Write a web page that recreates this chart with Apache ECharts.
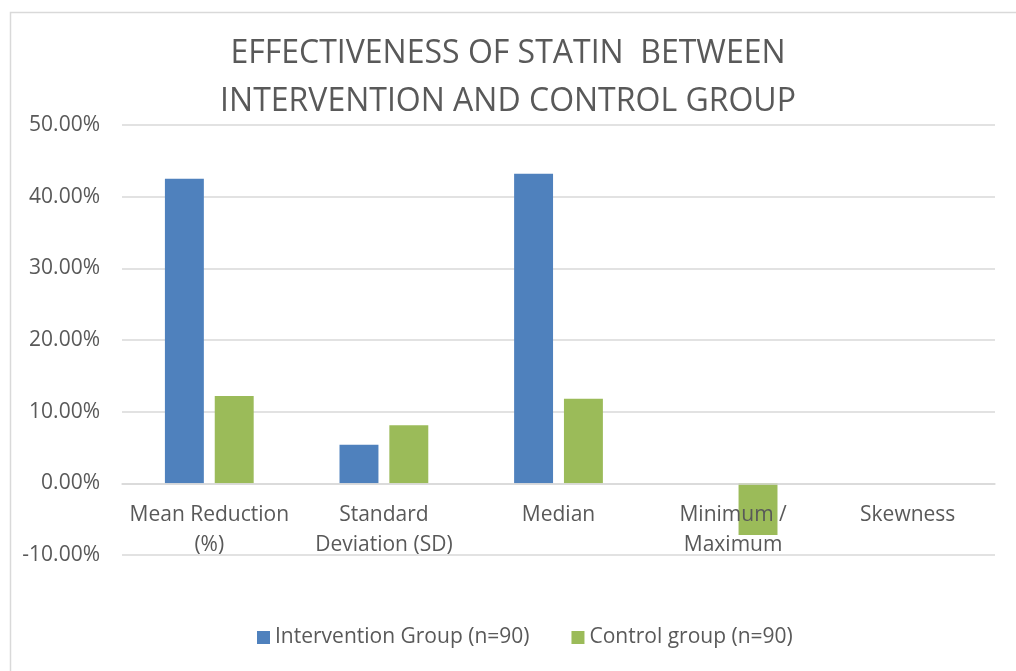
<!DOCTYPE html>
<html>
<head>
<meta charset="utf-8">
<script src="https://cdn.jsdelivr.net/npm/echarts@6/dist/echarts.min.js"></script>
<style>html,body{margin:0;padding:0;background:#fff}#c{width:1016px;height:671px}</style>
</head>
<body>
<div id="c"></div>
<script>
const titleText = 'EFFECTIVENESS OF STATIN  BETWEEN\nINTERVENTION AND CONTROL GROUP';
const categories = ['Mean Reduction\n(%)', 'Standard\nDeviation (SD)', 'Median', 'Minimum /\nMaximum', 'Skewness'];
const seriesNames = ['Intervention Group (n=90)', 'Control group (n=90)'];
const intervention = [42.5, 5.4, 43.2, null, null];
const control = [12.2, 8.1, 11.8, -7.2, null];
const yMin = -10, yMax = 50, yStep = 10;

const FONT = '"Open Sans", sans-serif';
const W = 1016, H = 671;
const gridTop = 125, gridBottom = 116;
const gridH = H - gridTop - gridBottom;
const zeroOffset = -((0 - yMin) / (yMax - yMin)) * gridH;

const chart = echarts.init(document.getElementById('c'), null, {renderer: 'canvas'});
chart.setOption({
  backgroundColor: '#fff',
  animation: false,
  graphic: [{
    type: 'rect', left: 8, top: 10, z: -1,
    shape: {width: 1100, height: 800},
    style: {fill: 'none', stroke: '#d9d9d9', lineWidth: 1.5}
  }],
  title: {
    text: titleText, left: 'center', top: 25,
    textStyle: {fontFamily: FONT, fontSize: 32, fontWeight: 'normal', color: '#595959', lineHeight: 48}
  },
  legend: {
    top: 622, left: 252, itemWidth: 13, itemHeight: 13, itemGap: 42,
    icon: 'rect',
    textStyle: {fontFamily: FONT, fontSize: 21, color: '#595959'},
    data: seriesNames
  },
  grid: {left: 122, right: 21, top: gridTop, bottom: gridBottom},
  xAxis: {
    type: 'category', data: categories, z: 5,
    offset: zeroOffset,
    axisLine: {onZero: false, lineStyle: {color: '#d9d9d9', width: 1.5}},
    axisTick: {show: false},
    axisLabel: {fontFamily: FONT, fontSize: 21, color: '#595959', margin: 17, lineHeight: 30, interval: 0}
  },
  yAxis: {
    type: 'value', min: yMin, max: yMax, interval: yStep,
    axisLine: {show: false}, axisTick: {show: false},
    splitLine: {lineStyle: {color: '#d9d9d9', width: 1.5}},
    axisLabel: {fontFamily: FONT, fontSize: 21, color: '#595959', margin: 22,
      formatter: v => v.toFixed(2) + '%'}
  },
  series: [
    {name: seriesNames[0], type: 'bar', data: intervention, barWidth: '22.3%', barGap: '28%',
     itemStyle: {color: '#4F81BD'}},
    {name: seriesNames[1], type: 'bar', data: control, barWidth: '22.3%', barGap: '28%',
     itemStyle: {color: '#9BBB59'}}
  ]
});
</script>
</body>
</html>
